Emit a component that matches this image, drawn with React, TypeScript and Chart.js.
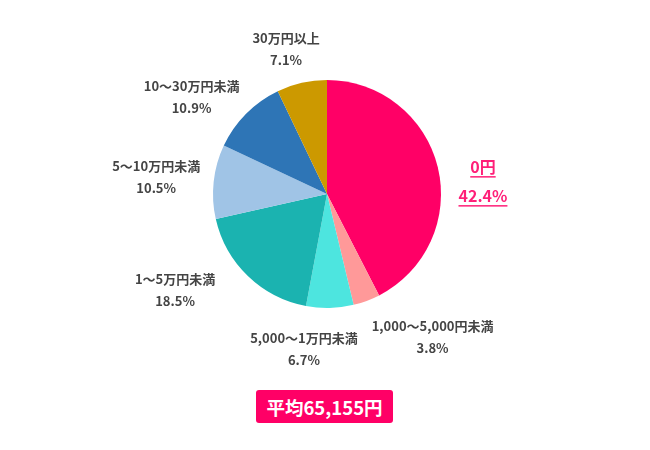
import React, { useEffect, useRef } from "react";
import { Chart, registerables } from "chart.js";

Chart.register(...registerables);

// ---- data ----
const categories = [
  "0円",
  "1,000〜5,000円未満",
  "5,000〜1万円未満",
  "1〜5万円未満",
  "5〜10万円未満",
  "10〜30万円未満",
  "30万円以上",
];
const shares = [42.4, 3.8, 6.7, 18.5, 10.5, 10.9, 7.1];
const sliceColors = ["#FF0066", "#FF9999", "#4DE5DF", "#1BB3B0", "#A0C4E6", "#2E75B6", "#CC9900"];
const averageYen = 65155;

// ---- label layout (relative to each slice's mid-angle) ----
const labelAngleNudge = [9, -10, 8.3, 10.3, 0.5, -4, -1.5]; // degrees
const labelGap = [18, 34, 25, 33, 14, 17, 18]; // px beyond the pie radius
const FONT = '"Noto Sans CJK JP", "Noto Sans", sans-serif';

const labelPlugin = {
  id: "sliceLabels",
  afterDatasetsDraw(chart: any) {
    const { ctx } = chart;
    const meta = chart.getDatasetMeta(0);
    meta.data.forEach((arc: any, i: number) => {
      const p = arc.getProps(["x", "y", "startAngle", "endAngle", "outerRadius"], true);
      const mid = (p.startAngle + p.endAngle) / 2 + (labelAngleNudge[i] * Math.PI) / 180;
      const ux = Math.cos(mid);
      const uy = Math.sin(mid);
      const R = p.outerRadius + labelGap[i];
      const highlight = i === 0;
      const size = highlight ? 16 : 13;
      const spacing = highlight ? 29 : 22;
      const line1 = categories[i];
      const line2 = `${shares[i].toFixed(1)}%`;
      ctx.save();
      ctx.font = `bold ${size}px ${FONT}`;
      const w = Math.max(ctx.measureText(line1).width, ctx.measureText(line2).width);
      const h = spacing + size;
      const cx = p.x + R * ux + (w / 2) * ux;
      const cy = p.y + R * uy + (h / 2) * uy;
      ctx.textAlign = "center";
      ctx.textBaseline = "middle";
      ctx.fillStyle = highlight ? "#FF1F78" : "#444444";
      const ys = [cy - spacing / 2, cy + spacing / 2];
      [line1, line2].forEach((t, k) => {
        ctx.fillText(t, cx, ys[k]);
        if (highlight) {
          const tw = ctx.measureText(t).width;
          ctx.fillRect(cx - tw / 2, ys[k] + 9, tw, 1.5);
        }
      });
      ctx.restore();
    });
  },
};

export default function App() {
  const ref = useRef<HTMLCanvasElement | null>(null);
  useEffect(() => {
    if (!ref.current) return;
    const chart = new Chart(ref.current, {
      type: "pie",
      data: {
        labels: categories,
        datasets: [
          {
            data: shares,
            backgroundColor: sliceColors,
            borderWidth: 0,
          },
        ],
      },
      options: {
        animation: false,
        responsive: false,
        devicePixelRatio: 1,
        layout: { padding: { left: 213, right: 209, top: 80, bottom: 142 } },
        plugins: {
          legend: { display: false },
          tooltip: { enabled: false },
        },
      },
      plugins: [labelPlugin],
    });
    return () => chart.destroy();
  }, []);

  return (
    <div style={{ position: "fixed", left: 0, top: 0, width: 650, height: 450, background: "#fff" }}>
      <canvas ref={ref} width={650} height={450} style={{ display: "block" }} />
      <div
        style={{
          position: "absolute",
          left: 256,
          top: 390,
          width: 137,
          height: 33,
          background: "#FF0066",
          borderRadius: 3,
          color: "#fff",
          font: `bold 18.5px ${FONT}`,
          display: "flex",
          alignItems: "center",
          justifyContent: "center",
        }}
      >
        {`平均${averageYen.toLocaleString("en-US")}円`}
      </div>
    </div>
  );
}
